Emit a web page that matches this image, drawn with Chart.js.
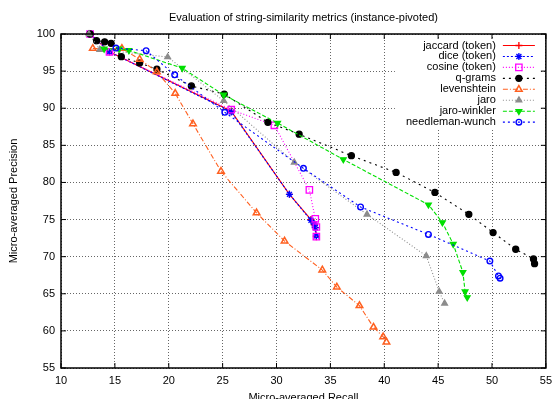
<!DOCTYPE html>
<html><head><meta charset="utf-8">
<script src="https://cdn.jsdelivr.net/npm/chart.js@4/dist/chart.umd.min.js"></script>
<style>html,body{margin:0;padding:0;background:#fff}canvas{display:block}</style>
</head><body>
<canvas id="c" width="558" height="399"></canvas>
<script>
const titleText = "Evaluation of string-similarity metrics (instance-pivoted)";
const xAxisTitle = "Micro-averaged Recall";
const yAxisTitle = "Micro-averaged Precision";
const recallTicks = [10, 15, 20, 25, 30, 35, 40, 45, 50, 55];
const precisionTicks = [55, 60, 65, 70, 75, 80, 85, 90, 95, 100];
const seriesNames = ["jaccard (token)", "dice (token)", "cosine (token)", "q-grams", "levenshtein", "jaro", "jaro-winkler", "needleman-wunch"];

const jaccardRecall = [12.7, 14.5, 25.8, 31.2, 33.2, 33.5, 33.6, 33.7];
const jaccardPrecision = [100, 97.6, 89.6, 78.4, 75.0, 74.3, 73.9, 72.7];
const diceRecall = [12.7, 14.5, 25.8, 31.2, 33.2, 33.5, 33.6, 33.7];
const dicePrecision = [100, 97.6, 89.5, 78.4, 74.9, 74.4, 73.9, 72.8];
const cosineRecall = [12.7, 14.5, 25.8, 29.8, 33.05, 33.6, 33.7, 33.7];
const cosinePrecision = [100, 97.6, 89.8, 87.7, 79.0, 75.1, 74.0, 72.7];
const qgramsRecall = [12.7, 13.3, 14.05, 14.65, 15.6, 17.3, 18.9, 22.1, 25.15, 29.2, 32.1, 36.95, 41.1, 44.7, 47.85, 50.1, 52.2, 53.85, 53.95];
const qgramsPrecision = [100, 99.1, 98.95, 98.75, 96.95, 96.1, 95.25, 93.0, 91.9, 88.1, 86.5, 83.6, 81.35, 78.65, 75.7, 73.25, 71.0, 69.7, 69.05];
const levenshteinRecall = [12.95, 15.65, 17.3, 18.9, 20.6, 22.25, 24.85, 28.15, 30.75, 34.25, 35.6, 37.7, 39.0, 39.9, 40.2];
const levenshteinPrecision = [98.05, 98.05, 96.6, 94.9, 92.0, 87.9, 81.5, 75.9, 72.1, 68.2, 65.9, 63.4, 60.5, 59.2, 58.5];
const jaroRecall = [12.6, 13.6, 19.9, 25.1, 31.65, 38.4, 43.9, 45.1, 45.6];
const jaroPrecision = [100, 97.9, 96.9, 91.0, 82.7, 75.7, 70.1, 65.3, 63.7];
const jaroWinklerRecall = [14.0, 15.4, 16.3, 21.25, 25.1, 30.1, 36.2, 44.1, 45.4, 46.4, 47.3, 47.5, 47.7];
const jaroWinklerPrecision = [98.0, 98.0, 97.8, 95.4, 91.8, 88.0, 83.1, 77.0, 74.6, 71.7, 67.9, 65.3, 64.5];
const needlemanRecall = [15.1, 17.9, 20.55, 25.2, 32.5, 37.8, 44.1, 49.8, 50.6, 50.75];
const needlemanPrecision = [98.1, 97.75, 94.5, 89.45, 81.9, 76.7, 73.0, 69.4, 67.4, 67.1];

const FONT = "'Liberation Sans', Arial, Helvetica, sans-serif";

function pts(r, p) { return r.map((v, i) => ({ x: v, y: p[i] })); }

function mk(i, r, p, color, dash, style, radius, filled, extra) {
  return Object.assign({
    label: seriesNames[i],
    data: pts(r, p),
    showLine: true,
    borderColor: color,
    backgroundColor: color,
    borderWidth: 1.1,
    borderDash: dash,
    pointStyle: style,
    pointRadius: radius,
    pointHoverRadius: radius,
    pointBorderWidth: 1.3,
    pointBorderColor: color,
    pointBackgroundColor: filled ? color : 'rgba(0,0,0,0)',
    pointRotation: 0,
    clip: false,
    tension: 0,
    order: 10 - i
  }, extra || {});
}

const datasets = [
  mk(0, jaccardRecall, jaccardPrecision, '#ff0000', [], 'cross', 3.5, false),
  mk(1, diceRecall, dicePrecision, '#0000ff', [2, 2], 'star', 3.5, false),
  mk(2, cosineRecall, cosinePrecision, '#ff00ff', [1, 2], 'rect', 4.5, false),
  mk(3, qgramsRecall, qgramsPrecision, '#000000', [2, 4], 'circle', 3, true),
  mk(4, levenshteinRecall, levenshteinPrecision, '#ff6020', [5, 2, 1, 2], 'triangle', 3.8, false, { pointBorderWidth: 1.5 }),
  mk(5, jaroRecall, jaroPrecision, '#8c8c8c', [1, 2], 'triangle', 3.3, true),
  mk(6, jaroWinklerRecall, jaroWinklerPrecision, '#00e000', [4, 2], 'triangle', 3.3, true, { pointRotation: 180 }),
  mk(7, needlemanRecall, needlemanPrecision, '#0000ff', [2, 3], 'circle', 2.8, false, { pointBorderWidth: 1.4 })
];

const frame = {
  id: 'frame',
  afterDatasetsDraw(chart) {
    const { ctx, chartArea: a, scales: { x, y } } = chart;
    ctx.save();
    // opaque key box
    ctx.fillStyle = '#fff';
    ctx.fillRect(a.right - 151, a.top + 5, 145, 89);
    // border
    ctx.setLineDash([]);
    ctx.strokeStyle = '#000';
    ctx.lineWidth = 1.5;
    ctx.strokeRect(a.left, a.top, a.right - a.left, a.bottom - a.top);
    // inward ticks (mirrored)
    ctx.lineWidth = 1;
    ctx.beginPath();
    recallTicks.forEach(v => {
      const px = x.getPixelForValue(v);
      ctx.moveTo(px, a.bottom); ctx.lineTo(px, a.bottom - 5);
      ctx.moveTo(px, a.top); ctx.lineTo(px, a.top + 5);
    });
    precisionTicks.forEach(v => {
      const py = y.getPixelForValue(v);
      ctx.moveTo(a.left, py); ctx.lineTo(a.left + 5, py);
      ctx.moveTo(a.right, py); ctx.lineTo(a.right - 5, py);
    });
    ctx.stroke();
    // key
    const textRight = a.right - 50, l0 = a.right - 43, l1 = a.right - 11;
    ctx.font = '11px ' + FONT;
    ctx.textAlign = 'right';
    ctx.textBaseline = 'middle';
    chart.data.datasets.forEach((ds, i) => {
      const yy = a.top + 11.5 + i * 10.95;
      ctx.fillStyle = '#000';
      ctx.fillText(ds.label, textRight, yy);
      ctx.strokeStyle = ds.borderColor;
      ctx.lineWidth = ds.borderWidth;
      ctx.setLineDash(ds.borderDash);
      ctx.beginPath(); ctx.moveTo(l0, yy); ctx.lineTo(l1, yy); ctx.stroke();
      ctx.setLineDash([]);
      ctx.fillStyle = ds.pointBackgroundColor;
      ctx.strokeStyle = ds.pointBorderColor;
      ctx.lineWidth = ds.pointBorderWidth;
      if (Chart.helpers && Chart.helpers.drawPoint) {
        Chart.helpers.drawPoint(ctx, { pointStyle: ds.pointStyle, rotation: ds.pointRotation, radius: ds.pointRadius, borderWidth: ds.pointBorderWidth }, (l0 + l1) / 2, yy);
      }
    });
    ctx.restore();
  },
  afterDraw(chart) {
    const { ctx, chartArea: a } = chart;
    ctx.save();
    ctx.fillStyle = '#000';
    ctx.font = '11px ' + FONT;
    ctx.textAlign = 'center';
    ctx.textBaseline = 'middle';
    ctx.fillText(titleText, (a.left + a.right) / 2, 18);
    ctx.fillText(xAxisTitle, (a.left + a.right) / 2, 398);
    ctx.translate(14, (a.top + a.bottom) / 2);
    ctx.rotate(-Math.PI / 2);
    ctx.fillText(yAxisTitle, 0, 0);
    ctx.restore();
  }
};

const gridOpts = { color: 'rgba(0,0,0,0.6)', lineWidth: 1, drawTicks: false };

new Chart(document.getElementById('c'), {
  type: 'scatter',
  data: { datasets },
  options: {
    responsive: false,
    devicePixelRatio: 1,
    animation: false,
    events: [],
    layout: { padding: { top: 34, right: 9, left: 0, bottom: 0 } },
    plugins: { legend: { display: false }, tooltip: { enabled: false }, title: { display: false } },
    scales: {
      x: {
        type: 'linear', min: 10, max: 55,
        afterBuildTicks: s => { s.ticks = recallTicks.map(v => ({ value: v })); },
        afterFit: s => { s.height = 31; },
        ticks: { color: '#000', font: { family: FONT, size: 11 }, padding: 6, maxRotation: 0, autoSkip: false },
        grid: gridOpts,
        border: { display: false, dash: [1, 2] }
      },
      y: {
        type: 'linear', min: 55, max: 100,
        afterBuildTicks: s => { s.ticks = precisionTicks.map(v => ({ value: v })); },
        afterFit: s => { s.width = 61; },
        ticks: { color: '#000', font: { family: FONT, size: 11 }, padding: 6, autoSkip: false },
        grid: gridOpts,
        border: { display: false, dash: [1, 2] }
      }
    }
  },
  plugins: [frame]
});
</script>
</body></html>
